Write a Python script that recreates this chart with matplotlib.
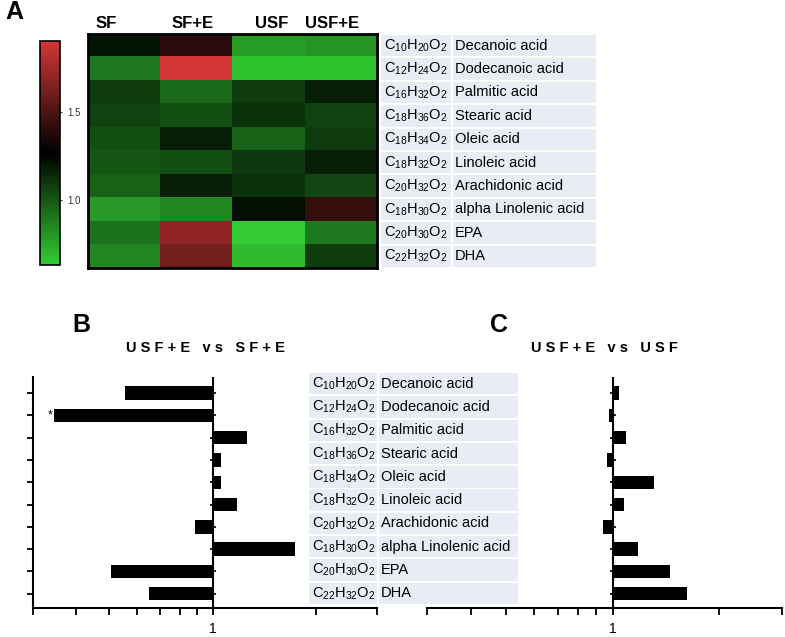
import numpy as np
import matplotlib
matplotlib.use('Agg')
import matplotlib.pyplot as plt
from matplotlib.colors import LinearSegmentedColormap
from matplotlib.patches import Rectangle

plt.rcParams['font.family'] = ['Liberation Sans', 'DejaVu Sans']
plt.rcParams['mathtext.default'] = 'regular'

groups = ['SF', 'SF+E', 'USF', 'USF+E']
formulas = [r'C$_{10}$H$_{20}$O$_2$', r'C$_{12}$H$_{24}$O$_2$', r'C$_{16}$H$_{32}$O$_2$',
            r'C$_{18}$H$_{36}$O$_2$', r'C$_{18}$H$_{34}$O$_2$', r'C$_{18}$H$_{32}$O$_2$',
            r'C$_{20}$H$_{32}$O$_2$', r'C$_{18}$H$_{30}$O$_2$', r'C$_{20}$H$_{30}$O$_2$',
            r'C$_{22}$H$_{32}$O$_2$']
names = ['Decanoic acid', 'Dodecanoic acid', 'Palmitic acid', 'Stearic acid', 'Oleic acid',
         'Linoleic acid', 'Arachidonic acid', 'alpha Linolenic acid', 'EPA', 'DHA']

# heatmap values (rows = fatty acids, cols = groups)
sf = [1.20, 0.89, 1.08, 1.06, 1.02, 1.00, 0.96, 0.79, 0.91, 0.85]
sf_e = [1.39, 1.90, 0.94, 1.02, 1.17, 1.02, 1.17, 0.85, 1.70, 1.61]
usf = [0.77, 0.66, 1.08, 1.11, 0.96, 1.09, 1.11, 1.22, 0.63, 0.69]
usf_e = [0.80, 0.66, 1.17, 1.06, 1.08, 1.17, 1.05, 1.43, 0.89, 1.08]

# fold changes
usfe_vs_sfe = [0.556, 0.345, 1.257, 1.053, 1.053, 1.178, 0.89, 1.73, 0.507, 0.654]
usfe_vs_usf = [1.045, 0.979, 1.09, 0.964, 1.31, 1.079, 0.937, 1.177, 1.45, 1.62]

W, H = 785, 637
fig = plt.figure(figsize=(W / 100, H / 100), dpi=100)


def px_axes(x0, y0, x1, y1):
    return fig.add_axes([x0 / W, 1 - y1 / H, (x1 - x0) / W, (y1 - y0) / H])


# ---- A: heatmap ----
cmap = LinearSegmentedColormap.from_list('gbr', ['#33cd33', '#000000', '#d43636'])
data = np.array([sf, sf_e, usf, usf_e]).T
ax = px_axes(88, 34, 377, 268)
im = ax.imshow(data, cmap=cmap, vmin=0.63, vmax=1.9, aspect='auto', interpolation='nearest')
ax.set_xticks([])
ax.set_yticks([])
for s in ax.spines.values():
    s.set_linewidth(2)
hx = [0.025, 0.29, 0.578, 0.75]
for x, g in zip(hx, groups):
    ax.text(x, 1.026, g, transform=ax.transAxes, fontsize=12, fontweight='bold',
            va='baseline', ha='left')

cax = px_axes(40, 41, 60, 265)
cb = fig.colorbar(im, cax=cax, ticks=[1.0, 1.5])
cb.ax.tick_params(labelsize=7, length=3, direction='inout', colors='#333333')
cb.outline.set_linewidth(1.2)

fig.text(5 / W, 1 - 12 / H, 'A', fontsize=18, fontweight='bold', va='center', ha='left')


def draw_table(axt):
    n = len(names)
    axt.set_xlim(0, 1)
    axt.set_ylim(n, 0)
    axt.axis('off')
    for i in range(n):
        axt.add_patch(Rectangle((0, i + 0.04), 0.326, 0.92, color='#e8ecf5', lw=0))
        axt.add_patch(Rectangle((0.335, i + 0.04), 0.665, 0.92, color='#e8ecf5', lw=0))
        axt.text(0.015, i + 0.5, formulas[i], fontsize=10.5, va='center', ha='left')
        axt.text(0.345, i + 0.5, names[i], fontsize=10.5, va='center', ha='left')


draw_table(px_axes(381, 34, 596, 268))

# ---- B and C: bar charts ----
ypos = np.arange(len(names))


def bar_panel(axb, vals, left_spine):
    axb.set_xscale('log')
    axb.barh(ypos, np.array(vals) - 1, left=1, height=0.6, color='black')
    axb.set_xlim(0.3, 3)
    axb.set_ylim(9.64, -0.72)
    axb.axvline(1, color='black', lw=1.5)
    axb.plot(np.ones(len(ypos)), ypos, ls='none', marker='_', color='black', ms=5, mew=1.2)
    axb.set_xticks([1])
    axb.set_xticklabels(['1'])
    axb.set_xticks([0.3, 0.4, 0.5, 0.6, 0.7, 0.8, 0.9, 2, 3], minor=True)
    axb.xaxis.set_minor_formatter(plt.NullFormatter())
    axb.tick_params(axis='x', which='both', length=5, width=1.3, labelsize=10, pad=5)
    for s in ['top', 'right']:
        axb.spines[s].set_visible(False)
    axb.spines['bottom'].set_linewidth(1.5)
    axb.spines['left'].set_linewidth(1.5)
    if left_spine:
        axb.set_yticks(ypos)
        axb.set_yticklabels([])
        axb.tick_params(axis='y', length=4, width=1.3)
    else:
        axb.spines['left'].set_visible(False)
        axb.set_yticks([])


axB = px_axes(33, 377, 377, 608)
bar_panel(axB, usfe_vs_sfe, True)
axB.text(0.33, 1, '*', fontsize=9, va='center', ha='left')
axB.set_title('U S F + E   v s   S F + E', fontsize=10.5, fontweight='bold', pad=18)

axC = px_axes(427, 377, 782, 608)
bar_panel(axC, usfe_vs_usf, False)
axC.set_title('U S F + E   v s   U S F', fontsize=10.5, fontweight='bold', pad=18)

fig.text(72 / W, 1 - 325 / H, 'B', fontsize=18, fontweight='bold', va='center', ha='left')
fig.text(490 / W, 1 - 325 / H, 'C', fontsize=18, fontweight='bold', va='center', ha='left')

draw_table(px_axes(309, 372, 518, 605))

fig.savefig('out.png', dpi=100)
